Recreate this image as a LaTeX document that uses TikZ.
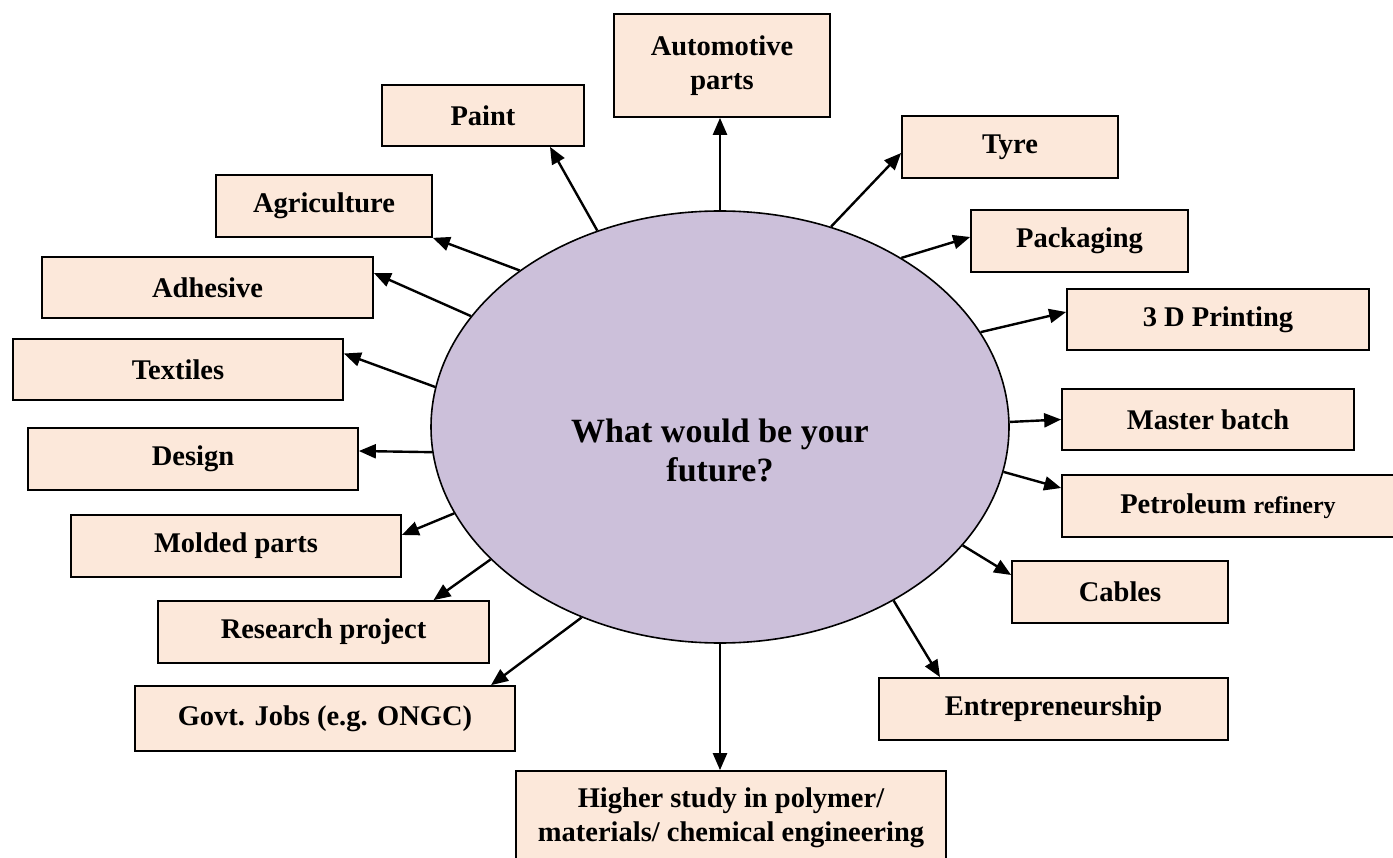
\documentclass[tikz,border=0pt]{standalone}
\usepackage{fontspec}
\setmainfont{Liberation Serif}
\usetikzlibrary{arrows.meta,shapes.geometric}
\definecolor{peach}{HTML}{FCE8DA}
\definecolor{lav}{HTML}{CCC0DA}
\tikzset{
  box/.style={draw=black, line width=1.7pt, fill=peach, rectangle, inner sep=0pt, align=center,
    font=\bfseries\fontsize{28.5}{34}\selectfont},
  hub/.style={draw=black, line width=1.6pt, fill=lav, ellipse, inner sep=0pt,
    minimum width=578pt, minimum height=432pt},
  conn/.style={line width=2.4pt, -{Triangle[length=17pt,width=14pt]}}
}
\begin{document}
\begin{tikzpicture}[x=1pt,y=-1pt]
\useasboundingbox (0,0) rectangle (1393,858);
\clip (0,0) rectangle (1393,858);
\fill[white] (0,0) rectangle (1393,858);
\node[hub] (e) at (720,427) {};
\node[font=\bfseries\fontsize{34}{39}\selectfont, align=center] (q) at (720,450) {What would be your\\future?};

\node[box, minimum width=216pt, minimum height=103pt] (auto) at (722,65.5) {Automotive\\parts};
\node[box, minimum width=202pt, minimum height=61pt] (paint) at (483,115.5) {Paint};
\node[box, minimum width=216pt, minimum height=62pt] (tyre) at (1010,147) {Tyre};
\node[box, minimum width=216pt, minimum height=62pt] (agri) at (324,206) {Agriculture};
\node[box, minimum width=217pt, minimum height=62pt] (pack) at (1079.5,241) {Packaging};
\node[box, minimum width=331pt, minimum height=61pt] (adh) at (207.5,287.5) {Adhesive};
\node[box, minimum width=302pt, minimum height=61pt] (print) at (1218,319.5) {3 D Printing};
\node[box, minimum width=330pt, minimum height=61pt] (text) at (178,369.5) {Textiles};
\node[box, minimum width=292pt, minimum height=61pt] (mb) at (1208,419.5) {Master batch};
\node[box, minimum width=330pt, minimum height=62pt] (design) at (193,459) {Design};
\node[box, minimum width=332pt, minimum height=62pt] (pet) at (1228,506) {Petroleum {\fontsize{24}{28}\selectfont refinery}};
\node[box, minimum width=330pt, minimum height=62pt] (mold) at (236,546) {Molded parts};
\node[box, minimum width=216pt, minimum height=62pt] (cables) at (1120,592) {Cables};
\node[box, minimum width=331pt, minimum height=62pt] (res) at (323.5,632) {Research project};
\node[box, minimum width=349pt, minimum height=62pt] (ent) at (1053.5,709) {Entrepreneurship};
\node[box, minimum width=380pt, minimum height=65pt] (govt) at (325,718.5) {Govt. Jobs (e.g. ONGC)};
\node[box, minimum width=430pt, minimum height=94pt] (high) at (731,818) {Higher study in polymer/\\materials/ chemical engineering};

\draw[conn] (e.90) -- ([xshift=-2pt]auto.south);
\draw[conn] (e.122) -- ([xshift=67pt]paint.south);
\draw[conn] (e.61) -- ([yshift=-6pt]tyre.west);
\draw[conn] (e.43) -- ([yshift=4pt]pack.west);
\draw[conn] (e.20.5) -- ([yshift=7.5pt]print.west);
\draw[conn] (e.1.8) -- (mb.west);
\draw[conn] (e.-9.7) -- ([yshift=18pt]pet.west);
\draw[conn] (e.-26.8) -- ([yshift=17pt]cables.west);
\draw[conn] (e.-45.5) -- ([xshift=-113.5pt]ent.north);
\draw[conn] (e.270) -- ([xshift=-11pt]high.north);
\draw[conn] (e.234.5) -- ([xshift=166pt]govt.north);
\draw[conn] (e.210.2) -- ([xshift=110pt]res.north);
\draw[conn] (e.198.4) -- ([yshift=11pt]mold.east);
\draw[conn] (e.185) -- ([yshift=8pt]design.east);
\draw[conn] (e.172.5) -- ([yshift=16pt]text.east);
\draw[conn] (e.156.5) -- ([yshift=14.5pt]adh.east);
\draw[conn] (e.142.9) -- (agri.south east);
\end{tikzpicture}
\end{document}
